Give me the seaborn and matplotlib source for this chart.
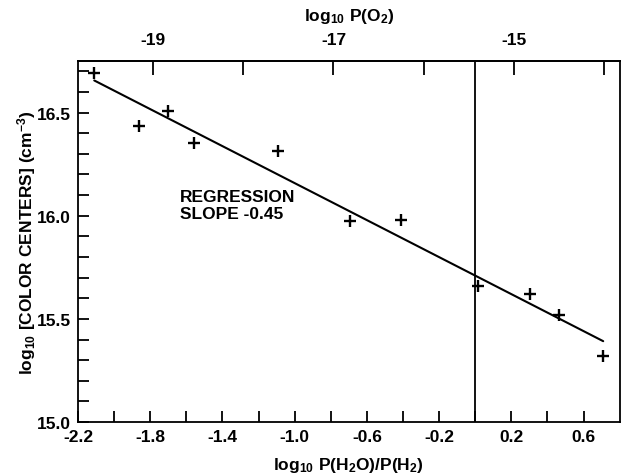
import matplotlib
matplotlib.use("Agg")
import matplotlib.pyplot as plt
import numpy as np
import pandas as pd
import seaborn as sns
from matplotlib.ticker import FixedLocator

# ---- data ----
log_h2o_h2 = [-2.11, -1.86, -1.70, -1.556, -1.093, -0.692, -0.410, 0.017, 0.304, 0.462, 0.709]
log_color_centers = [16.69, 16.433, 16.509, 16.352, 16.312, 15.973, 15.978, 15.662, 15.620, 15.517, 15.318]
x_major_ticks = [-2.2, -1.8, -1.4, -1.0, -0.6, -0.2, 0.2, 0.6]
x_tick_labels = ["-2.2", "-1.8", "-1.4", "-1.0", "-0.6", "-0.2", "0.2", "0.6"]
y_major_ticks = [15.0, 15.5, 16.0, 16.5]
y_tick_labels = ["15.0", "15.5", "16.0", "16.5"]
o2_major_ticks = [-19, -17, -15]
o2_tick_labels = ["-19", "-17", "-15"]
o2_minor_ticks = [-18, -16, -14]
o2_slope = 2.0
o2_offset = -15.43
vline_x = [0.0]
annotation = "REGRESSION\nSLOPE -0.45"

df = pd.DataFrame({"x": log_h2o_h2, "y": log_color_centers})

sns.set_style("ticks")
plt.rcParams["font.family"] = ["Liberation Sans", "DejaVu Sans"]
plt.rcParams["mathtext.default"] = "regular"
plt.rcParams["font.weight"] = "bold"
plt.rcParams["text.color"] = "black"
plt.rcParams["axes.labelcolor"] = "black"
plt.rcParams["xtick.color"] = "black"
plt.rcParams["ytick.color"] = "black"

fig = plt.figure(figsize=(6.24, 4.77), dpi=100)
ax = fig.add_axes([0.125, 0.113, 0.868, 0.757])

sns.regplot(data=df, x="x", y="y", ax=ax, ci=None, scatter=False, truncate=True,
            line_kws=dict(color="black", lw=1.5))
sns.scatterplot(data=df, x="x", y="y", ax=ax, marker="+", s=65, color="black",
                linewidth=1.7, zorder=5)
for vx in vline_x:
    ax.axvline(vx, color="black", lw=1.3)

ax.set_xlim(-2.2, 0.8)
ax.set_ylim(15.0, 16.75)
ax.set_xticks(x_major_ticks)
ax.set_xticklabels(x_tick_labels)
ax.xaxis.set_minor_locator(FixedLocator(np.round(np.arange(-2.0, 0.8, 0.2), 2)))
ax.set_yticks(y_major_ticks)
ax.set_yticklabels(y_tick_labels)
ax.yaxis.set_minor_locator(FixedLocator(np.round(np.arange(15.1, 16.75, 0.1), 2)))
ax.tick_params(which="both", direction="in", length=8, width=1.3, labelsize=12.5,
               top=False, right=False, pad=5, colors="black")

for s in ax.spines.values():
    s.set_linewidth(1.3)
    s.set_color("black")

ax.set_xlabel("log$_{10}$ P(H$_2$O)/P(H$_2$)", fontsize=12.5, fontweight="bold", labelpad=8,
              color="black")
ax.set_ylabel("log$_{10}$ [COLOR CENTERS] (cm$^{-3}$)", fontsize=12.5, fontweight="bold",
              labelpad=-1, color="black")

secax = ax.secondary_xaxis("top", functions=(lambda x: o2_slope * x + o2_offset,
                                             lambda o: (o - o2_offset) / o2_slope))
secax.set_xticks(o2_major_ticks)
secax.set_xticklabels(o2_tick_labels)
secax.xaxis.set_minor_locator(FixedLocator(o2_minor_ticks))
secax.tick_params(which="both", direction="in", length=10, width=1.3, labelsize=12.5, pad=10,
                  colors="black")
secax.spines["top"].set_linewidth(1.3)
secax.spines["top"].set_color("black")
secax.set_xlabel("log$_{10}$ P(O$_2$)", fontsize=12.5, fontweight="bold", labelpad=9,
                 color="black")

ax.text(-1.633, 16.13, annotation, fontsize=12.5, fontweight="bold", ha="left", va="top",
        linespacing=1.15, color="black")

fig.savefig("out.png", dpi=100)
